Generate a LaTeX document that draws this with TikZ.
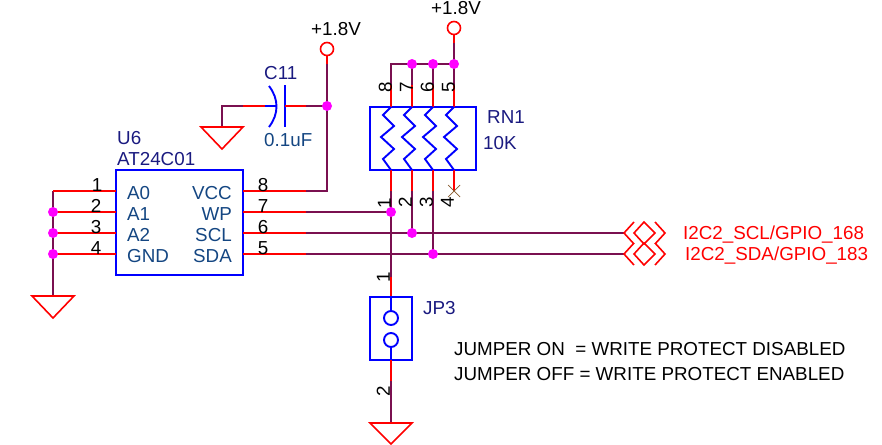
\documentclass[tikz,border=0pt]{standalone}
\usepackage{fontspec}
\setmainfont{Liberation Sans}
\definecolor{wirecol}{RGB}{122,16,80}
\definecolor{pincol}{RGB}{255,0,0}
\definecolor{partcol}{RGB}{0,0,255}
\definecolor{dotcol}{RGB}{255,0,255}
\definecolor{namecol}{RGB}{26,26,128}
\definecolor{pinname}{RGB}{20,70,130}
\tikzset{
	wire/.style={wirecol, line width=1.8pt},
	pin/.style={pincol, line width=1.8pt},
	part/.style={partcol, line width=1.9pt},
	power/.style={pincol, line width=1.6pt},
	txt/.style={inner sep=0pt, text height=13.5pt, text depth=0pt, font=\fontsize{18.8}{20}\selectfont},
	pinnum/.style={txt, black},
	refname/.style={txt, namecol},
	sigpalt/.style={txt, pinname},
	netname/.style={txt, pincol},
}
\begin{document}
\begin{tikzpicture}[x=1pt,y=-1pt]
	\useasboundingbox (0,0) rectangle (882,444);

	% Points of the schematic
	\coordinate (A0) at (116,191);
	\coordinate (A1) at (116,212);
	\coordinate (A2) at (116,233);
	\coordinate (GND) at (116,254);
	\coordinate (VCC) at (243,191);
	\coordinate (WP) at (243,212);
	\coordinate (SCL) at (243,233);
	\coordinate (SDA) at (243,254);
	\coordinate (L0) at (53,191);
	\coordinate (L1) at (53,212);
	\coordinate (L2) at (53,233);
	\coordinate (L3) at (53,254);
	\coordinate (GndL) at (53,296);
	\coordinate (Vcap) at (327,49);
	\coordinate (Jcap) at (327,106);
	\coordinate (GndC) at (222,127);
	\coordinate (Vrn) at (454,28);
	\coordinate (R8) at (391,64);
	\coordinate (R7) at (412,64);
	\coordinate (R6) at (433,64);
	\coordinate (R5) at (454,64);
	\coordinate (JWP) at (391,212);
	\coordinate (JSCL) at (412,233);
	\coordinate (JSDA) at (433,254);
	\coordinate (EndSCL) at (624,233);
	\coordinate (EndSDA) at (624,254);
	\coordinate (GndJ) at (391,423);
	\coordinate (NC) at (454,191);

	% U6
	\draw[part] (116,170) rectangle (243,275);
	\draw[wire] (L0) -- (L3) -- (GndL); % Address pins to ground
	\draw[pin] (L0) -- (A0);
	\draw[pin] (L1) -- (A1);
	\draw[pin] (L2) -- (A2);
	\draw[pin] (L3) -- (GND);
	\draw[wire] (VCC) -- (327,191) -- (Jcap) -- (327,64);
	\draw[wire] (WP) -- (JWP);
	\draw[wire] (SCL) -- (EndSCL);
	\draw[wire] (SDA) -- (EndSDA);
	\foreach \p in {VCC,WP,SCL,SDA}
		\draw[pin] (\p) -- ++(63,0);

	% C11
	\draw[wire] (GndC) -- (222,106) -- (243,106);
	\draw[pin] (243,106) -- (265,106);
	\draw[part] (265,106) -- (277,106);
	\draw[part] (269,86) .. controls (279,99) and (279,114) .. (269,127); % Curved plate
	\draw[part] (285,85) -- (285,127);
	\draw[pin] (285,106) -- (306,106);
	\draw[wire] (306,106) -- (Jcap);

	% Power symbols
	\draw[pin] (327,55) -- (327,64);
	\draw[power] (Vcap) circle (6.5);
	\draw[pin] (454,34) -- (454,43);
	\draw[wire] (454,43) -- (R5);
	\draw[power] (Vrn) circle (6.5);

	% RN1
	\draw[part] (370,107) rectangle (476,170);
	\draw[wire] (391,85) -- (R8) -- (R5);
	\draw[wire] (R7) -- (412,85);
	\draw[wire] (R6) -- (433,85);
	\draw[wire] (R5) -- (454,85);
	\foreach \x in {391,412,433,454} {
		\draw[pin] (\x,85) -- (\x,107);
		\draw[pin] (\x,170) -- (\x,191);
		\draw[part] (\x,107) -- ++(-8,8) -- ++(11,11) -- ++(-13,11) -- ++(13,12) -- ++(-11,10) -- (\x,170); % Resistor
	}
	\draw[wire] (391,191) -- (JWP) -- (391,277);
	\draw[wire] (412,191) -- (JSCL);
	\draw[wire] (433,191) -- (JSDA);
	\draw[brown!70!black, line width=0.7pt] (NC) ++(-6,-6) -- ++(12,12) ++(-12,0) -- ++(12,-12);

	% JP3
	\draw[pin] (391,277) -- (391,297);
	\draw[part] (370,297) rectangle (412,360);
	\draw[part] (391,297) -- (391,311);
	\draw[part] (391,318) circle (7);
	\draw[part] (391,340) circle (7);
	\draw[part] (391,347) -- (391,360);
	\draw[pin] (391,360) -- (391,381);
	\draw[wire] (391,381) -- (GndJ);

	% Ground symbols
	\draw[power] (GndL) ++(-21,0) -- ++(42,0) -- ++(-21,22) -- cycle;
	\draw[power] (GndC) ++(-21,0) -- ++(42,0) -- ++(-21,22) -- cycle;
	\draw[power] (GndJ) ++(-21,0) -- ++(42,0) -- ++(-21,21) -- cycle;

	% Off page connectors
	\foreach \y in {233,254} {
		\draw[power] (634,\y-11) -- (624,\y) -- (634,\y+11);
		\draw[power] (644,\y-11) -- (634,\y) -- (644,\y+11) -- (655,\y) -- cycle;
		\draw[power] (655,\y-11) -- (665,\y) -- (655,\y+11);
	}

	% Junctions
	\foreach \j in {L1,L2,L3,Jcap,R7,R6,R5,JWP,JSCL,JSDA}
		\fill[dotcol] (\j) circle (5);

	% Pin numbers
	\node[pinnum] (n1) at (97,185) {1};
	\node[pinnum] (n2) at (96,206) {2};
	\node[pinnum] (n3) at (96,227) {3};
	\node[pinnum] (n4) at (96,248) {4};
	\node[pinnum] (n8) at (263,185) {8};
	\node[pinnum] (n7) at (263,206) {7};
	\node[pinnum] (n6) at (263,227) {6};
	\node[pinnum] (n5) at (263,248) {5};
	\node[pinnum, rotate=90] (r8) at (385,87) {8};
	\node[pinnum, rotate=90] (r7) at (406,87) {7};
	\node[pinnum, rotate=90] (r6) at (427,87) {6};
	\node[pinnum, rotate=90] (r5) at (448,87) {5};
	\node[pinnum, rotate=90] (r1) at (384,203) {1};
	\node[pinnum, rotate=90] (r2) at (405,202) {2};
	\node[pinnum, rotate=90] (r3) at (426,202) {3};
	\node[pinnum, rotate=90] (r4) at (447,202) {4};
	\node[pinnum, rotate=90] (j1) at (383,277) {1};
	\node[pinnum, rotate=90] (j2) at (383,391) {2};

	% Pin names
	\node[sigpalt, anchor=west] (a0) at (127,193) {A0};
	\node[sigpalt, anchor=west] (a1) at (127,214) {A1};
	\node[sigpalt, anchor=west] (a2) at (127,235) {A2};
	\node[sigpalt, anchor=west] (gnd) at (127,256) {GND};
	\node[sigpalt, anchor=east] (vcc) at (232,193) {VCC};
	\node[sigpalt, anchor=east] (wp) at (232,214) {WP};
	\node[sigpalt, anchor=east] (scl) at (232,235) {SCL};
	\node[sigpalt, anchor=east] (sda) at (232,256) {SDA};

	% Part names and values
	\node[refname, anchor=west] (u6) at (117,138) {U6};
	\node[refname, anchor=west] (at24) at (117,159) {AT24C01};
	\node[refname, anchor=west] (c11) at (264,73) {C11};
	\node[sigpalt, anchor=west] (cval) at (264,140) {0.1uF};
	\node[refname, anchor=west] (rn1) at (487,117) {RN1};
	\node[refname, anchor=west] (rval) at (483,143) {10K};
	\node[refname, anchor=west] (jp3) at (423,308) {JP3};
	\node[pinnum, anchor=west] (v1) at (311,29) {+1.8V};
	\node[pinnum, anchor=west] (v2) at (431,8) {+1.8V};

	% Net names and note
	\node[netname, anchor=west] (netscl) at (683,233) {I2C2\_SCL/GPIO\_168};
	\node[netname, anchor=west] (netsda) at (685,254) {I2C2\_SDA/GPIO\_183};
	\node[pinnum, anchor=west] (note1) at (454,349) {JUMPER ON\ \ = WRITE PROTECT DISABLED};
	\node[pinnum, anchor=west] (note2) at (454,374) {JUMPER OFF = WRITE PROTECT ENABLED};
\end{tikzpicture}
\end{document}
